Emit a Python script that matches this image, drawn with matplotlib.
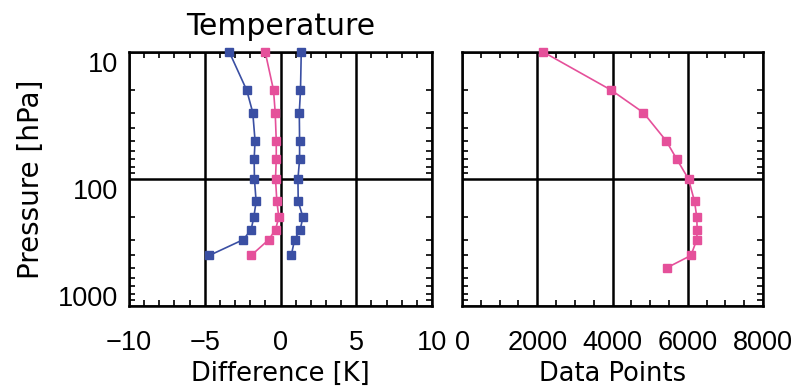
import matplotlib
matplotlib.use("Agg")
import matplotlib.pyplot as plt
from matplotlib.ticker import LogLocator, MultipleLocator, NullFormatter, FixedLocator

# pressure levels (hPa)
levels = [10, 20, 30, 50, 70, 100, 150, 200, 250, 300, 400]
levels_count = [10, 20, 30, 50, 70, 100, 150, 200, 250, 300, 400, 500]

# temperature difference profile [K]
diff_mean = [-1.01, -0.46, -0.35, -0.28, -0.28, -0.33, -0.24, -0.11, -0.33, -0.77, -1.94]
diff_low = [-3.38, -2.23, -1.83, -1.68, -1.74, -1.72, -1.61, -1.76, -1.94, -2.45, -4.70]
diff_high = [1.37, 1.32, 1.24, 1.26, 1.26, 1.15, 1.17, 1.48, 1.30, 0.93, 0.71]

# number of data points per level
n_points = [2160, 3970, 4820, 5425, 5710, 6020, 6180, 6240, 6250, 6240, 6085, 5445]

pressure_ticks = [10, 100, 1000]
pressure_labels = ['10', '100', '1000']

blue = "#3a4fa3"
pink = "#e5509a"

plt.rcParams['font.family'] = ['DejaVu Sans']

label_font = {'family': 'DejaVu Sans', 'size': 18.5}

fig = plt.figure(figsize=(7.95, 3.89), dpi=100)
bottom = 1 - 306 / 389
height = (306 - 52) / 389
ax1 = fig.add_axes([129 / 795, bottom, (432 - 129) / 795, height])
ax2 = fig.add_axes([462 / 795, bottom, (763 - 462) / 795, height])


def style_axes(ax):
    ax.set_yscale('log')
    ax.set_ylim(1000, 10)
    ax.yaxis.set_major_locator(FixedLocator(pressure_ticks))
    ax.yaxis.set_minor_locator(LogLocator(base=10, subs=range(2, 10)))
    ax.yaxis.set_minor_formatter(NullFormatter())
    ax.grid(True, which='major', color='black', lw=1.8)
    for sp in ax.spines.values():
        sp.set_linewidth(1.8)
    ax.tick_params(which='both', direction='in', top=True, right=True, width=1.2,
                   labelsize=19.5, labelfontfamily='Liberation Sans')
    ax.tick_params(which='major', length=0)
    ax.tick_params(axis='x', which='major', pad=17)
    ax.tick_params(axis='y', which='major', pad=8)
    ax.tick_params(which='minor', length=4)


def profile(ax, x, y, color):
    ax.plot(x, y, color=color, lw=1.2, marker='s', ms=6.2, mfc=color, mec=color,
            clip_on=False, zorder=3)


# left panel: temperature difference
style_axes(ax1)
profile(ax1, diff_low, levels, blue)
profile(ax1, diff_high, levels, blue)
profile(ax1, diff_mean, levels, pink)
ax1.set_xlim(-10, 10)
ax1.xaxis.set_major_locator(MultipleLocator(5))
ax1.xaxis.set_minor_locator(MultipleLocator(1))
ax1.set_yticklabels(pressure_labels)
for lab in ax1.get_yticklabels()[:2]:
    lab.set_va('top')
ax1.get_yticklabels()[2].set_va('baseline')
ax1.set_xlabel('Difference [K]', fontdict=label_font, labelpad=4)
ax1.set_ylabel('Pressure [hPa]', fontsize=20, labelpad=9)
ax1.set_title('Temperature', fontsize=21.5, pad=12)

# right panel: data points
style_axes(ax2)
profile(ax2, n_points, levels_count, pink)
ax2.set_xlim(0, 8000)
ax2.xaxis.set_major_locator(MultipleLocator(2000))
ax2.xaxis.set_minor_locator(MultipleLocator(500))
ax2.tick_params(axis='y', which='both', labelleft=False)
ax2.set_xlabel('Data Points', fontdict=label_font, labelpad=4)

fig.savefig('out.png', dpi=100)
